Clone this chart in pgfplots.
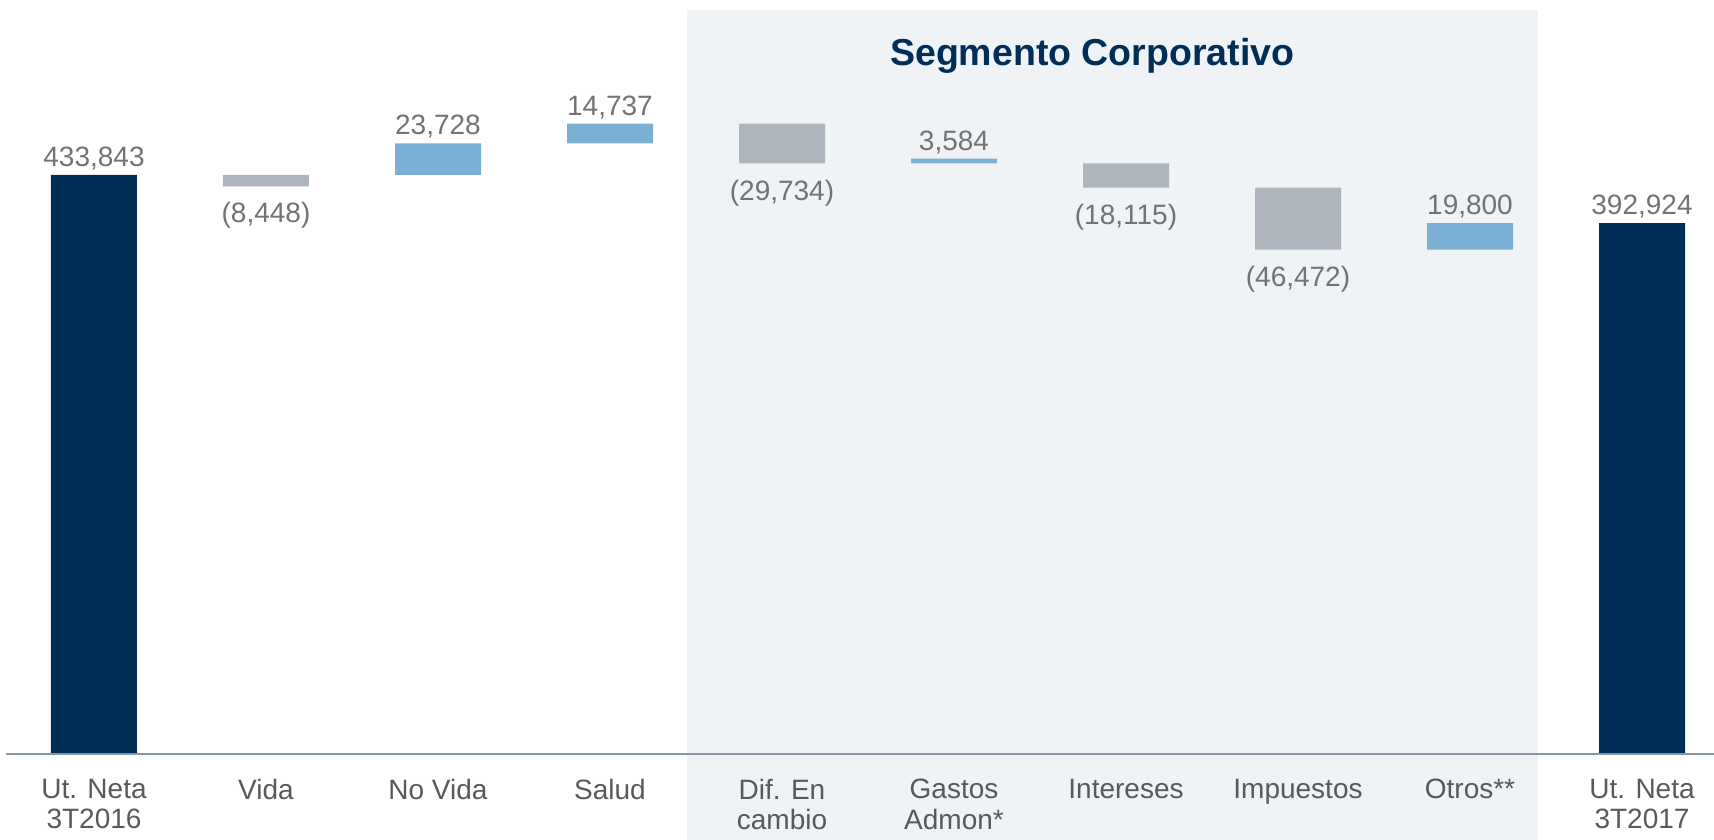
\documentclass[border=0pt]{standalone}
\usepackage{fontspec}
\setmainfont{Liberation Sans}
\usepackage{pgfplots}
\pgfplotsset{compat=1.18}
\usepackage{pgfplotstable}
\definecolor{navy}{HTML}{002E57}
\definecolor{posblue}{HTML}{7BAFD4}
\definecolor{neggray}{HTML}{AEB5BD}
\definecolor{shadebg}{HTML}{EFF3F5}
\definecolor{valtxt}{HTML}{737373}
\definecolor{ticktxt}{HTML}{595959}
\definecolor{axiscol}{HTML}{8797A6}

\pgfplotstableread{
x base total pos neg
0 0 433843 0 0
1 425395 0 0 8448
2 433843 0 23728 0
3 457571 0 14737 0
4 442574 0 0 29734
5 442574 0 3584 0
6 424459 0 0 18115
7 377987 0 0 46472
8 377987 0 19800 0
9 0 397800 0 0
}\bars

\pgfplotstableread{
x y label
0 433843 433,843
2 457571 23,728
3 472308 14,737
5 446158 3,584
8 397787 19,800
9 397800 392,924
}\above

\pgfplotstableread{
x y label
1 425395 (8,448)
4 442574 (29,734)
6 424459 (18,115)
7 377987 (46,472)
}\below

\pgfplotsset{
  geom/.style={scale only axis, width=854pt, height=377.15pt,
    xmin=-0.5116, xmax=9.4186, ymin=0, ymax=564900, clip=false},
}

\begin{document}
\begin{tikzpicture}
\path[use as bounding box] (-3pt,-42.85pt) rectangle (854pt,377.15pt);
% background shade
\begin{axis}[geom, hide axis]
\fill[shadebg] (axis cs:3.449,-64200) rectangle (axis cs:8.394,557400);
\end{axis}
% bars
\begin{axis}[geom,
  ybar stacked, bar width=43pt, axis on top,
  axis x line=bottom, axis y line=none,
  x axis line style={-, draw=axiscol, line width=1.2pt},
  xtick={0,...,9},
  xticklabels={{Ut. Neta\\3T2016},Vida,No Vida,Salud,{Dif. En\\cambio},{Gastos\\Admon*},Intereses,Impuestos,Otros**,{Ut. Neta\\3T2017}},
  major tick length=0pt,
  xticklabel style={anchor=north, inner sep=0pt, yshift=-12.35pt, align=center,
    font=\fontsize{14pt}{15.15pt}\selectfont, text=ticktxt},
]
\addplot[fill=none, draw=none] table[x=x,y=base]{\bars};
\addplot[fill=navy, draw=none] table[x=x,y=total]{\bars};
\addplot[fill=posblue, draw=none] table[x=x,y=pos]{\bars};
\addplot[fill=neggray, draw=none] table[x=x,y=neg]{\bars};
\end{axis}
% value labels and title
\begin{axis}[geom, hide axis,
  nodes near coords, point meta=explicit symbolic,
  every node near coord/.append style={font=\fontsize{14pt}{16pt}\selectfont, text=valtxt, anchor=base, inner sep=0pt},
]
\addplot[only marks, mark=*, mark size=0pt, mark options={draw=none, fill=none},
  every node near coord/.append style={yshift=4.15pt}]
  table[x=x, y=y, meta=label]{\above};
\addplot[only marks, mark=*, mark size=0pt, mark options={draw=none, fill=none},
  every node near coord/.append style={yshift=-18.35pt}]
  table[x=x, y=y, meta=label]{\below};
\node[anchor=base, font=\fontsize{18.75pt}{20pt}\selectfont\bfseries, text=navy]
  at (axis cs:5.804,516200) {Segmento Corporativo};
\end{axis}
\end{tikzpicture}
\end{document}
